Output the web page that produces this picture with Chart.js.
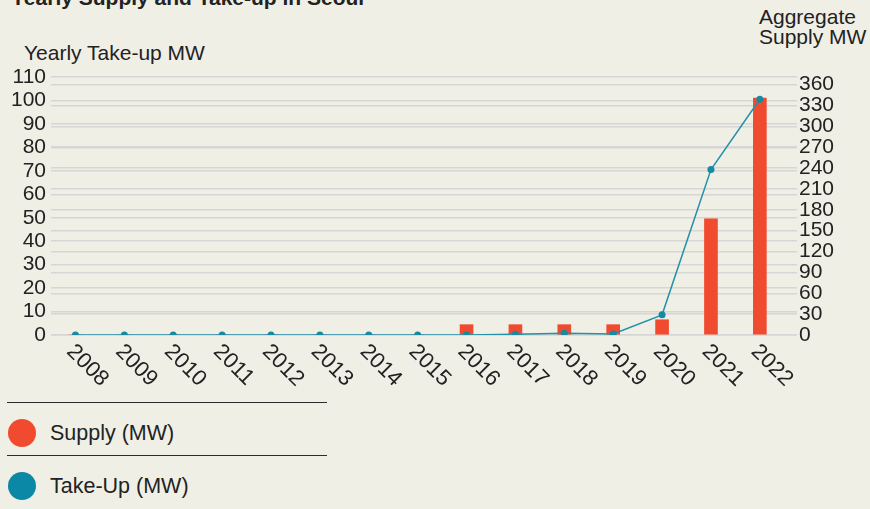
<!DOCTYPE html>
<html>
<head>
<meta charset="utf-8">
<script src="https://cdn.jsdelivr.net/npm/chart.js@4/dist/chart.umd.min.js"></script>
<style>
  html, body { margin: 0; padding: 0; background: #f0efe5; }
  body { width: 870px; height: 509px; position: relative; overflow: hidden;
         font-family: "Liberation Sans", Arial, sans-serif; color: #222; }
  #wrap { position: absolute; left: 0; top: 0; width: 870px; height: 400px; }
  .txt { position: absolute; white-space: nowrap; font-size: 21px; line-height: 21px; }
  #title { left: 11px; top: -13px; font-weight: bold; }
  #ytitle { left: 24px; top: 42px; }
  #y1title { left: 759px; top: 7px; line-height: 20px; }
  .sep { position: absolute; left: 7px; width: 320px; height: 0; border-top: 1.5px solid #2b2b2b; }
  .dot { position: absolute; left: 8px; width: 28px; height: 28px; border-radius: 50%; }
  .lg { position: absolute; left: 50px; font-size: 21.5px; line-height: 24px; }
</style>
</head>
<body>
<div id="title" class="txt">Yearly Supply and Take-up in Seoul</div>
<div id="ytitle" class="txt">Yearly Take-up MW</div>
<div id="y1title" class="txt">Aggregate<br>Supply MW</div>
<div id="wrap"><canvas id="c"></canvas></div>
<div id="legend"></div>
<script>
const years = [2008, 2009, 2010, 2011, 2012, 2013, 2014, 2015, 2016, 2017, 2018, 2019, 2020, 2021, 2022];
const supplyMW = [0, 0, 0, 0, 0, 0, 0, 0, 4.4, 4.4, 4.4, 4.4, 6.5, 49.5, 101];
const takeUpMW = [0, 0, 0, 0, 0, 0, 0, 0, 0, 1, 2.5, 1.5, 29, 238, 339];
const leftTicks = [0, 10, 20, 30, 40, 50, 60, 70, 80, 90, 100, 110];
const rightTicks = [0, 30, 60, 90, 120, 150, 180, 210, 240, 270, 300, 330, 360];
const seriesNames = ['Supply (MW)', 'Take-Up (MW)'];
const seriesColors = ['#f04b2f', '#0b88a6'];

const FONT = '"Liberation Sans", Arial, sans-serif';

// HTML legend
const lg = document.getElementById('legend');
seriesNames.forEach((n, i) => {
  const top = 403 + i * 53;
  lg.insertAdjacentHTML('beforeend',
    `<div class="sep" style="top:${top - 1}px"></div>` +
    `<div class="dot" style="top:${top + 16}px;background:${seriesColors[i]}"></div>` +
    `<div class="lg" style="top:${top + 18}px">${n}</div>`);
});

const xLabelPlugin = {
  id: 'xLabels',
  afterDraw(chart) {
    const ctx = chart.ctx, xs = chart.scales.x, area = chart.chartArea;
    ctx.save();
    ctx.fillStyle = '#222';
    ctx.font = '22px ' + FONT;
    ctx.textAlign = 'left';
    ctx.textBaseline = 'alphabetic';
    years.forEach(y => {
      const px = xs.getPixelForValue(y);
      ctx.save();
      ctx.translate(px + 1, area.bottom + 7);
      ctx.rotate(Math.PI / 4);
      ctx.fillText(String(y), 0, 15);
      ctx.restore();
    });
    ctx.restore();
  }
};

new Chart(document.getElementById('c'), {
  data: {
    datasets: [
      {
        type: 'line',
        label: seriesNames[1],
        data: years.map((y, i) => ({ x: y, y: takeUpMW[i] })),
        yAxisID: 'y1',
        borderColor: '#2391aa',
        borderWidth: 1.5,
        pointRadius: 3.5,
        pointBackgroundColor: '#1689a3',
        pointBorderWidth: 0,
        tension: 0,
        order: 0
      },
      {
        type: 'bar',
        label: seriesNames[0],
        data: years.map((y, i) => ({ x: y, y: supplyMW[i] })),
        yAxisID: 'y',
        backgroundColor: seriesColors[0],
        barThickness: 13,
        order: 1
      }
    ]
  },
  options: {
    responsive: true,
    maintainAspectRatio: false,
    animation: false,
    layout: { padding: { top: 77, left: 0, right: 0, bottom: 0 } },
    plugins: { legend: { display: false }, tooltip: { enabled: false } },
    scales: {
      x: {
        type: 'linear',
        min: 2007.5,
        max: 2022.76,
        offset: false,
        grid: { display: false },
        border: { display: false },
        ticks: { display: false },
        afterFit: s => { s.height = 65; }
      },
      y: {
        position: 'left',
        min: 0,
        max: 110,
        afterBuildTicks: a => { a.ticks = leftTicks.map(v => ({ value: v })); },
        grid: { color: '#d6d6d6', lineWidth: 1.5, drawTicks: false },
        border: { display: false },
        ticks: { color: '#222', font: { family: FONT, size: 21 }, padding: 5, autoSkip: false },
        afterFit: s => { s.width = 51; }
      },
      y1: {
        position: 'right',
        min: 0,
        max: 371,
        afterBuildTicks: a => { a.ticks = rightTicks.map(v => ({ value: v })); },
        grid: { color: '#d6d6d6', lineWidth: 1.5, drawTicks: false },
        border: { display: false },
        ticks: { color: '#222', font: { family: FONT, size: 21 }, padding: 2, autoSkip: false },
        afterFit: s => { s.width = 73; }
      }
    }
  },
  plugins: [xLabelPlugin]
});
</script>
</body>
</html>
